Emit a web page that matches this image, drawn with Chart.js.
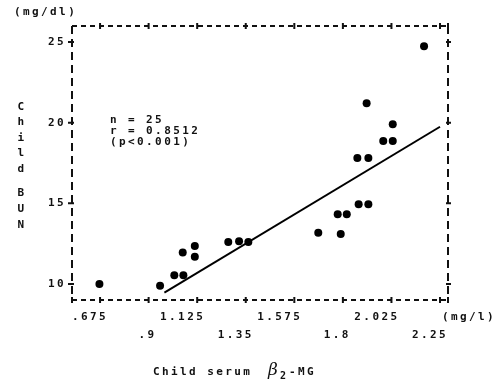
<!DOCTYPE html>
<html>
<head>
<meta charset="utf-8">
<script src="https://cdn.jsdelivr.net/npm/chart.js@4.4.1/dist/chart.umd.min.js"></script>
<style>
  html, body { margin: 0; padding: 0; background: #fff; }
</style>
</head>
<body>
<canvas id="myChart" width="503" height="386"></canvas>
<script>
// child serum b2-MG (mg/l) vs child BUN (mg/dl)
const serumMG = [0.672, 0.953, 1.019, 1.061, 1.058, 1.114, 1.114, 1.269, 1.319, 1.362,
  1.686, 1.776, 1.790, 1.818, 1.867, 1.873, 1.910, 1.918, 1.918, 1.987, 2.031, 2.031, 2.176];
const childBUN = [10.0, 9.89, 10.54, 10.54, 11.94, 12.35, 11.69, 12.60, 12.64, 12.60,
  13.18, 14.32, 13.10, 14.32, 17.81, 14.94, 21.2, 17.81, 14.94, 18.86, 19.9, 18.86, 24.75];

// regression line end points
const fitX = [0.973, 2.25];
const fitY = [9.46, 19.75];

const xTicks = [0.675, 0.9, 1.125, 1.35, 1.575, 1.8, 2.025, 2.25];
const xTickLabels = [".675", ".9", "1.125", "1.35", "1.575", "1.8", "2.025", "2.25"];
const yTicks = [10, 15, 20, 25];
const statLines = ["n = 25", "r = 0.8512", "(p<0.001)"];

const FONT = 'bold 11px "DejaVu Sans Mono"';
const SPACING = "2.4px";

function txt(ctx, s, x, y, align) {
  ctx.textAlign = align || "left";
  ctx.fillText(s, x, y);
}

const framePlugin = {
  id: "frame",
  beforeDatasetsDraw(chart) {
    const ctx = chart.ctx;
    const a = chart.chartArea;
    const xs = chart.scales.x;
    const ys = chart.scales.y;
    ctx.save();
    ctx.strokeStyle = "#111";
    ctx.lineWidth = 2;

    // dashed box
    ctx.setLineDash([5, 4]);
    ctx.beginPath();
    ctx.moveTo(a.left, a.top); ctx.lineTo(a.right, a.top);
    ctx.moveTo(a.left, a.bottom); ctx.lineTo(a.right, a.bottom);
    ctx.stroke();
    ctx.setLineDash([8, 5]);
    ctx.beginPath();
    ctx.moveTo(a.left, a.top); ctx.lineTo(a.left, a.bottom);
    ctx.moveTo(a.right, a.top); ctx.lineTo(a.right, a.bottom);
    ctx.stroke();
    ctx.setLineDash([]);

    // tick crosses
    ctx.beginPath();
    xTicks.forEach((v) => {
      const px = xs.getPixelForValue(v);
      ctx.moveTo(px, a.top - 3); ctx.lineTo(px, a.top + 3);
      ctx.moveTo(px, a.bottom - 3); ctx.lineTo(px, a.bottom + 3);
    });
    ctx.moveTo(a.right, a.top - 3); ctx.lineTo(a.right, a.top + 3);
    ctx.moveTo(a.right, a.bottom - 3); ctx.lineTo(a.right, a.bottom + 3);
    ctx.moveTo(a.left, a.bottom - 3); ctx.lineTo(a.left, a.bottom + 3);
    yTicks.forEach((v) => {
      const py = ys.getPixelForValue(v);
      ctx.moveTo(a.left - 4, py); ctx.lineTo(a.left + 2, py);
      ctx.moveTo(a.right - 2, py); ctx.lineTo(a.right + 3, py);
    });
    ctx.stroke();

    // labels
    ctx.fillStyle = "#111";
    ctx.font = FONT;
    ctx.letterSpacing = SPACING;
    ctx.textBaseline = "middle";
    xTicks.forEach((v, i) => {
      const px = xs.getPixelForValue(v);
      txt(ctx, xTickLabels[i], px + 8, i % 2 === 0 ? a.bottom + 17 : a.bottom + 35, "right");
    });
    txt(ctx, "(mg/l)", a.right - 6, a.bottom + 17);
    yTicks.forEach((v) => {
      txt(ctx, String(v), a.left - 6, ys.getPixelForValue(v), "right");
    });
    txt(ctx, "(mg/dl)", 14, 12);

    "Child".split("").forEach((c, i) => txt(ctx, c, 22, 107 + i * 15.5, "center"));
    "BUN".split("").forEach((c, i) => txt(ctx, c, 22, 193 + i * 16, "center"));

    statLines.forEach((s, i) => txt(ctx, s, 110, 120 + i * 11));

    // x axis title
    txt(ctx, "Child serum", 153, 372);
    ctx.letterSpacing = "0px";
    ctx.font = 'italic 17px "DejaVu Serif"';
    txt(ctx, "\u03B2", 268, 371);
    ctx.font = 'bold 10px "DejaVu Sans Mono"';
    txt(ctx, "2", 280, 376);
    ctx.font = FONT;
    ctx.letterSpacing = SPACING;
    txt(ctx, "-MG", 289, 372);
    ctx.restore();
  }
};

const points = serumMG.map((v, i) => ({ x: v, y: childBUN[i] }));
const fitLine = fitX.map((v, i) => ({ x: v, y: fitY[i] }));

const ctx = document.getElementById("myChart").getContext("2d");
const myChart = new Chart(ctx, {
  type: "scatter",
  data: {
    datasets: [
      {
        label: "BUN",
        data: points,
        backgroundColor: "#000",
        borderWidth: 0,
        pointRadius: 4,
      },
      {
        label: "fit",
        data: fitLine,
        showLine: true,
        borderColor: "#000",
        borderWidth: 2,
        pointRadius: 0,
      },
    ],
  },
  options: {
    responsive: false,
    animation: false,
    layout: { padding: { left: 72, right: 55, top: 26, bottom: 86 } },
    plugins: { legend: { display: false }, tooltip: { enabled: false } },
    scales: {
      x: { type: "linear", display: false, min: 0.545, max: 2.287 },
      y: { type: "linear", display: false, min: 9.0, max: 26.0 },
    },
  },
  plugins: [framePlugin],
});
</script>
</body>
</html>
